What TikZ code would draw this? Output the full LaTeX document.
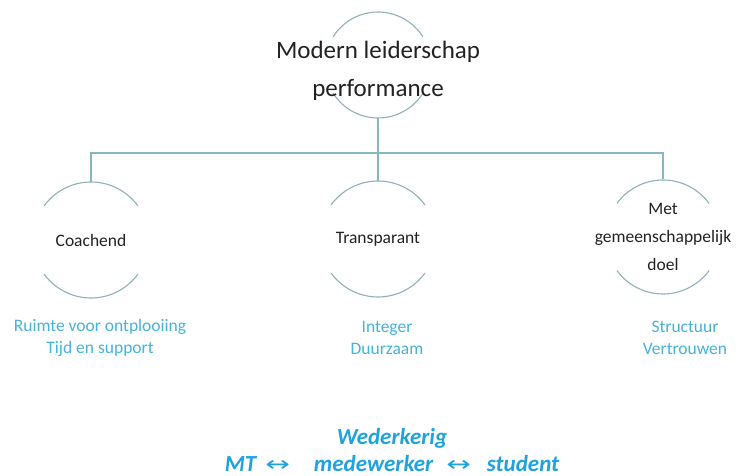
\documentclass[tikz,border=0pt]{standalone}
\usepackage{fontspec}
\usepackage{graphicx}
\setmainfont{Carlito}
\newfontfamily\symfont{DejaVu Sans}
\definecolor{arcc}{HTML}{8FB2B9}
\definecolor{connc}{HTML}{86B6C0}
\definecolor{subc}{HTML}{45B3DE}
\definecolor{botc}{HTML}{1FA3DF}
\definecolor{txtc}{HTML}{222222}
\newcommand{\myarr}{\scalebox{1.4}[1]{\symfont\mdseries\upshape\fontsize{21}{25}\selectfont ↔}}
\begin{document}
\begin{tikzpicture}[x=1pt,y=1pt,
  ring/.style={circle,draw=none,inner sep=0pt,minimum size=#1},
  arcline/.style={draw=arcc,line width=1.1pt},
  conn/.style={draw=connc,line width=1.1pt},
  title/.style={font=\fontsize{25}{38}\selectfont,text=txtc,align=center},
  lab/.style={font=\fontsize{17.5}{28}\selectfont,text=txtc,align=center},
  sub/.style={font=\fontsize{17.5}{22}\selectfont,text=subc,align=center},
  bot/.style={font=\fontsize{23}{27}\selectfont\bfseries\itshape,text=botc,align=center}]
\useasboundingbox[fill=white] (0,0) rectangle (736,476);
% rings
\node[ring=106pt] (topc) at (378,411) {};
\node[ring=116pt] (c1) at (91,236) {};
\node[ring=116pt] (c2) at (378,237) {};
\node[ring=116pt] (c3) at (663,239) {};
\coordinate (bus) at (378,323);
% arcs
\foreach \n/\r/\a in {topc/53/32,c1/58/36,c2/58/36,c3/57/36}{
  \draw[arcline] (\n.center) ++(\a:\r) arc[start angle=\a,end angle=180-\a,radius=\r];
  \draw[arcline] (\n.center) ++(180+\a:\r) arc[start angle=180+\a,end angle=360-\a,radius=\r];
}
% connectors
\draw[conn] (topc.south) -- (c2.north);
\draw[conn] (c1.north) -- (c1.north |- bus) -- (c3.north |- bus) -- (c3.north);
% texts
\node[title] (tt) at (378,405) {Modern leiderschap\\performance};
\node[lab] (t1) at (c1.center) {Coachend};
\node[lab] (t2) at (c2.center) {Transparant};
\node[lab] (t3) at (c3.center) {Met\\gemeenschappelijk\\doel};
\node[sub] (s1) at (100,138) {Ruimte voor ontplooiing\\Tijd en support};
\node[sub] (s2) at (387,138) {Integer\\Duurzaam};
\node[sub] (s3) at (685,138) {Structuur\\Vertrouwen};
\node[bot] (b) at (392,26) {Wederkerig\\MT\hspace{9pt}\myarr\hspace{24pt}medewerker\hspace{13pt}\myarr\hspace{16pt}student};
\end{tikzpicture}
\end{document}
